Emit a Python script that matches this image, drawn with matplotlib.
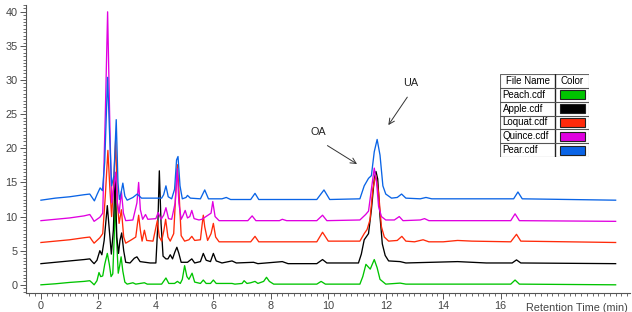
import matplotlib
matplotlib.use("Agg")
import matplotlib.pyplot as plt
from matplotlib.ticker import MultipleLocator
from matplotlib.patches import Rectangle

plt.rcParams["font.family"] = ["Liberation Sans", "DejaVu Sans"]

# chromatogram traces: (retention time, signal)
peach_x = [0.0, 0.5, 1.0, 1.5, 1.7, 1.78, 1.85, 1.95, 2.02, 2.08, 2.15, 2.22, 2.31, 2.38, 2.44,
           2.5, 2.55, 2.59, 2.63, 2.69, 2.74, 2.79, 2.85, 2.92, 3.0, 3.2, 3.3, 3.6, 3.7, 4.2,
           4.35, 4.45, 4.65, 4.75, 4.85, 4.92, 5.0, 5.08, 5.15, 5.26, 5.35, 5.55, 5.65, 5.75,
           5.9, 6.0, 6.1, 6.65, 6.75, 7.0, 7.07, 7.17, 7.3, 7.45, 7.55, 7.75, 7.85, 7.95, 8.1,
           9.6, 9.75, 9.9, 11.1, 11.2, 11.31, 11.46, 11.6, 11.7, 11.8, 12.0, 12.5, 12.7, 16.35,
           16.5, 16.65, 20.0]
peach_y = [0.0, 0.15, 0.35, 0.5, 0.6, 0.3, 0.0, 0.6, 1.8, 1.2, 1.3, 3.0, 4.6, 3.0, 1.2,
           1.6, 7.0, 12.6, 7.0, 1.7, 2.8, 4.1, 2.0, 0.4, 0.1, 0.3, 0.1, 0.3, 0.1, 0.1,
           1.0, 0.2, 0.2, 0.5, 0.2, 0.8, 2.8, 1.2, 0.8, 1.7, 0.4, 0.2, 0.7, 0.2,
           0.2, 0.7, 0.2, 0.2, 0.1, 0.2, 0.6, 0.2, 0.3, 0.5, 0.2, 0.5, 1.1, 0.5, 0.1,
           0.1, 0.5, 0.1, 0.1, 1.2, 3.0, 2.3, 3.7, 2.5, 0.8, 0.1, 0.25, 0.1, 0.1,
           0.7, 0.1, 0.0]

apple_x = [0.0, 0.5, 1.0, 1.5, 1.7, 1.78, 1.85, 1.95, 2.05, 2.12, 2.2, 2.31, 2.38, 2.45, 2.52,
           2.58, 2.64, 2.7, 2.75, 2.81, 2.88, 2.95, 3.1, 3.25, 3.34, 3.45, 3.8, 4.0, 4.07, 4.12,
           4.18, 4.25, 4.35, 4.42, 4.5, 4.58, 4.66, 4.73, 4.8, 4.88, 5.1, 5.25, 5.35, 5.55,
           5.65, 5.75, 5.9, 6.0, 6.1, 6.3, 6.65, 6.8, 7.4, 7.55, 8.4, 8.6, 9.6, 9.8, 9.95,
           11.05, 11.15, 11.25, 11.4, 11.5, 11.6, 11.66, 11.72, 11.8, 11.88, 11.98, 12.1,
           12.5, 12.7, 14.5, 15.5, 16.4, 16.55, 16.7, 20.0]
apple_y = [3.1, 3.3, 3.5, 3.7, 3.8, 3.4, 3.1, 3.6, 5.0, 4.4, 6.5, 11.6, 8.0, 4.5, 8.0,
           15.9, 7.0, 4.6, 6.5, 7.6, 5.0, 3.3, 3.2, 3.9, 4.1, 3.4, 3.2, 3.2, 9.0, 16.7,
           9.0, 4.2, 3.8, 3.8, 4.4, 3.8, 4.8, 5.5, 4.6, 3.3, 3.3, 3.8, 3.2, 3.4,
           4.6, 3.6, 3.4, 4.6, 3.5, 3.2, 3.5, 3.2, 3.3, 3.1, 3.4, 3.1, 3.1, 3.7, 3.2,
           3.2, 4.5, 6.6, 7.5, 11.0, 15.5, 16.6, 15.5, 10.0, 6.0, 4.3, 3.5,
           3.4, 3.2, 3.4, 3.2, 3.2, 3.65, 3.2, 3.1]

loquat_x = [0.0, 0.5, 1.0, 1.5, 1.7, 1.78, 1.85, 1.95, 2.05, 2.15, 2.24, 2.33, 2.4, 2.46, 2.53,
            2.6, 2.66, 2.72, 2.8, 2.88, 2.95, 3.15, 3.3, 3.36, 3.4, 3.46, 3.52, 3.6, 3.68, 3.9,
            3.98, 4.05, 4.12, 4.2, 4.28, 4.34, 4.42, 4.5, 4.62, 4.7, 4.75, 4.8, 4.88, 5.0, 5.15,
            5.25, 5.35, 5.55, 5.6, 5.65, 5.7, 5.8, 5.92, 6.0, 6.08, 6.2, 7.3, 7.45, 7.58, 9.6,
            9.8, 10.0, 11.1, 11.25, 11.35, 11.45, 11.55, 11.65, 11.75, 11.85, 11.95, 12.1, 12.4,
            12.56, 12.7, 13.0, 13.3, 13.5, 14.0, 14.5, 15.0, 16.35, 16.55, 16.7, 20.0]
loquat_y = [6.2, 6.4, 6.6, 6.9, 7.0, 6.5, 6.1, 6.5, 6.9, 7.5, 13.0, 19.7, 14.0, 10.0, 15.0,
            21.2, 12.0, 9.0, 11.0, 7.0, 6.1, 6.6, 7.0, 9.0, 10.2, 8.0, 6.4, 8.0, 6.5, 6.4,
            8.0, 9.4, 7.0, 6.4, 8.0, 9.6, 7.0, 6.4, 7.5, 14.0, 17.6, 14.0, 7.2, 6.4, 6.6,
            7.1, 6.5, 6.6, 8.5, 10.2, 8.5, 6.5, 7.5, 9.0, 7.0, 6.3, 6.3, 7.1, 6.3, 6.3,
            7.7, 6.4, 6.4, 7.5, 8.1, 9.5, 14.0, 16.1, 13.5, 8.5, 7.0, 6.4, 6.5,
            7.1, 6.4, 6.3, 6.6, 6.3, 6.3, 6.5, 6.4, 6.3, 7.4, 6.4, 6.2]

quince_x = [0.0, 0.5, 1.0, 1.5, 1.7, 1.78, 1.85, 1.95, 2.05, 2.15, 2.24, 2.32, 2.39, 2.46, 2.53,
            2.6, 2.66, 2.72, 2.8, 2.87, 2.95, 3.2, 3.34, 3.4, 3.46, 3.54, 3.64, 3.72, 4.0, 4.08,
            4.18, 4.27, 4.35, 4.44, 4.55, 4.67, 4.74, 4.8, 4.88, 4.95, 5.02, 5.1, 5.18, 5.25,
            5.33, 5.5, 5.6, 5.92, 5.98, 6.06, 6.2, 7.2, 7.35, 7.48, 8.3, 8.4, 8.55, 9.6, 9.8,
            9.95, 11.1, 11.3, 11.4, 11.5, 11.6, 11.68, 11.75, 11.85, 12.0, 12.3, 12.47, 12.6,
            13.2, 13.35, 13.5, 16.35, 16.5, 16.65, 20.0]
quince_y = [9.4, 9.6, 9.8, 10.1, 10.3, 9.8, 9.3, 9.6, 9.9, 10.5, 25.0, 40.0, 25.0, 12.0, 14.0,
            16.5, 12.0, 10.5, 13.7, 10.5, 9.4, 9.5, 12.0, 15.0, 11.0, 9.6, 10.3, 9.6, 9.7, 10.6,
            9.6, 10.2, 11.3, 9.7, 9.6, 12.0, 17.0, 12.0, 9.6, 10.2, 10.9, 9.8, 10.0, 10.9,
            9.7, 9.5, 9.6, 10.5, 12.2, 10.0, 9.4, 9.4, 10.1, 9.4, 9.4, 9.6, 9.4, 9.4, 10.2,
            9.4, 9.5, 10.3, 10.8, 14.0, 17.1, 15.0, 11.5, 10.0, 9.5, 9.5, 10.0, 9.4,
            9.5, 9.7, 9.4, 9.4, 10.4, 9.4, 9.3]

pear_x = [0.0, 0.5, 1.0, 1.5, 1.7, 1.78, 1.86, 1.96, 2.06, 2.14, 2.22, 2.32, 2.39, 2.46, 2.54,
          2.62, 2.68, 2.73, 2.79, 2.85, 2.92, 3.0, 3.2, 3.35, 3.5, 4.2, 4.27, 4.35, 4.43, 4.55,
          4.65, 4.72, 4.77, 4.84, 4.92, 5.05, 5.1, 5.2, 5.55, 5.7, 5.83, 6.3, 6.45, 6.6, 7.3,
          7.45, 7.58, 9.6, 9.85, 10.05, 11.1, 11.25, 11.4, 11.5, 11.6, 11.7, 11.8, 11.9, 12.0,
          12.2, 12.4, 12.55, 12.7, 13.2, 13.4, 13.6, 16.45, 16.6, 16.75, 20.0]
pear_y = [12.4, 12.7, 12.9, 13.2, 13.3, 12.8, 12.3, 13.3, 14.2, 13.8, 18.0, 30.4, 22.0, 14.5, 16.0,
          24.2, 15.0, 12.5, 13.5, 14.9, 13.0, 12.4, 12.8, 13.3, 12.7, 12.7, 13.2, 14.5, 12.9, 12.6,
          14.0, 18.3, 18.8, 14.5, 12.6, 12.8, 13.1, 12.7, 12.6, 13.9, 12.6, 12.6, 12.8, 12.5, 12.5,
          13.4, 12.5, 12.5, 13.9, 12.5, 12.6, 14.5, 15.6, 16.0, 19.5, 21.3, 19.0, 14.5, 13.3,
          12.7, 12.8, 13.3, 12.7, 12.6, 12.8, 12.6, 12.6, 13.6, 12.6, 12.4]

file_names = ["Peach.cdf", "Apple.cdf", "Loquat.cdf", "Quince.cdf", "Pear.cdf"]
colors = ["#00c400", "#000000", "#ff2a0a", "#e000e0", "#0a64e6"]
traces = [(peach_x, peach_y), (apple_x, apple_y), (loquat_x, loquat_y),
          (quince_x, quince_y), (pear_x, pear_y)]

fig = plt.figure(figsize=(6.32, 3.12), dpi=100)
ax = fig.add_axes([26 / 632, 1 - 293 / 312, 604 / 632, 288 / 312])

for (xs, ys), c in zip(traces, colors):
    ax.plot(xs, ys, color=c, lw=0.95)

ax.set_xlim(-0.52, 20.5)
ax.set_ylim(-1.2, 41)
ax.set_xticks(range(0, 17, 2))
ax.xaxis.set_minor_locator(MultipleLocator(0.2))
ax.yaxis.set_major_locator(MultipleLocator(5))
ax.yaxis.set_minor_locator(MultipleLocator(0.5))
for s in ("top", "right"):
    ax.spines[s].set_visible(False)
for s in ("left", "bottom"):
    ax.spines[s].set_color("#555555")
    ax.spines[s].set_linewidth(0.8)
ax.tick_params(which="major", length=4, width=0.7, color="#555555",
               labelsize=7.8, labelcolor="#444444", pad=2)
ax.tick_params(which="minor", length=2, width=0.6, color="#555555")

ax.text(0.997, -0.035, "Retention Time (min)", transform=ax.transAxes,
        ha="right", va="top", fontsize=7.8, color="#444444")

# peak labels
arrow = dict(arrowstyle="->", color="#333333", lw=0.7, shrinkA=0, shrinkB=0)
ax.text(9.65, 22.4, "OA", fontsize=7.8, ha="center", va="center", color="#222222")
ax.annotate("", xy=(11.0, 17.7), xytext=(9.97, 20.4), arrowprops=arrow)
ax.text(12.86, 29.6, "UA", fontsize=7.8, ha="center", va="center", color="#222222")
ax.annotate("", xy=(12.09, 23.4), xytext=(12.75, 27.5), arrowprops=arrow)

# file name / color table
lg = fig.add_axes([500 / 632, 1 - 157 / 312, 89 / 632, 83 / 312])
lg.set_xlim(0, 89)
lg.set_ylim(83, 0)
lg.axis("off")
row_h = 83 / 6
lg.add_patch(Rectangle((0, 0), 89, 83, fill=False, ec="#666666", lw=0.8))
lg.plot([55, 55], [0, 83], color="#222222", lw=1.0)
for i in range(1, 6):
    lg.plot([0, 89], [i * row_h, i * row_h], color="#555555", lw=0.8)
lg.text(27.5, row_h / 2, "File Name", ha="center", va="center", fontsize=7)
lg.text(72, row_h / 2, "Color", ha="center", va="center", fontsize=7)
for i, (name, c) in enumerate(zip(file_names, colors)):
    yc = (i + 1.5) * row_h
    lg.text(2.5, yc, name, ha="left", va="center", fontsize=7)
    lg.add_patch(Rectangle((60, yc - 4.5), 25, 9, fc=c, ec="#222222", lw=0.8))

fig.savefig("out.png", dpi=100)
